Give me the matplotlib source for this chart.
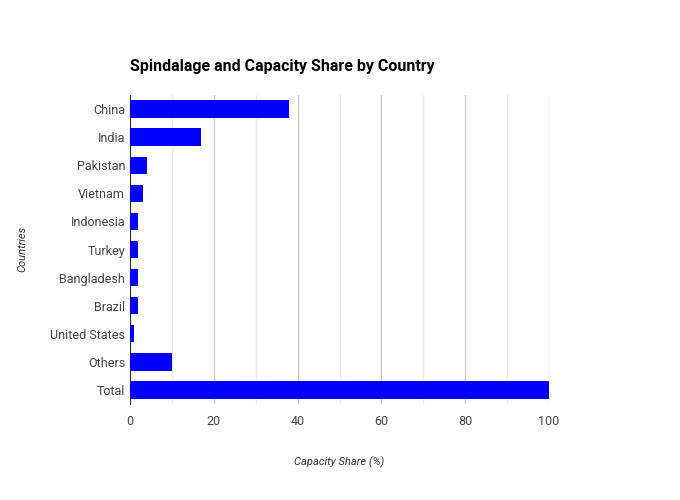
import matplotlib.pyplot as plt

countries = ['China', 'India', 'Pakistan', 'Vietnam', 'Indonesia', 'Turkey',
             'Bangladesh', 'Brazil', 'United States', 'Others', 'Total']
share = [38, 17, 4, 3, 2, 2, 2, 2, 1, 10, 100]

plt.rcParams['font.family'] = ['Roboto', 'DejaVu Sans']
fig = plt.figure(figsize=(6.8, 5), dpi=100)
ax = fig.add_axes([130 / 680, 1 - 404 / 500, 419 / 680, 309 / 500])

ax.barh(countries, share, height=0.62, color='#0000ff', zorder=3)
ax.invert_yaxis()
ax.set_ylim(len(countries) - 0.5, -0.5)
ax.set_xlim(0, 100)
ax.set_xticks(range(0, 101, 20))
ax.set_xticks(range(10, 100, 20), minor=True)
ax.grid(axis='x', which='major', color='#cccccc', linewidth=1, zorder=0)
ax.grid(axis='x', which='minor', color='#ebebeb', linewidth=1, zorder=0)
for s in ['top', 'right', 'bottom']:
    ax.spines[s].set_visible(False)
ax.spines['left'].set_color('#333333')
ax.tick_params(length=0, labelsize=9, colors='#444444', which='both')
ax.tick_params(axis='x', pad=8)

fig.text(130 / 680, 1 - 67 / 500, 'Spindalage and Capacity Share by Country',
         fontsize=11.5, fontweight='bold', va='center', ha='left')
fig.text(339 / 680, 1 - 462 / 500, 'Capacity Share (%)', fontsize=8,
         style='italic', ha='center', va='center', color='#333333')
fig.text(22 / 680, 1 - 249 / 500, 'Countries', fontsize=8, style='italic',
         rotation=90, ha='center', va='center', color='#333333')

fig.savefig('out.png', dpi=100)
